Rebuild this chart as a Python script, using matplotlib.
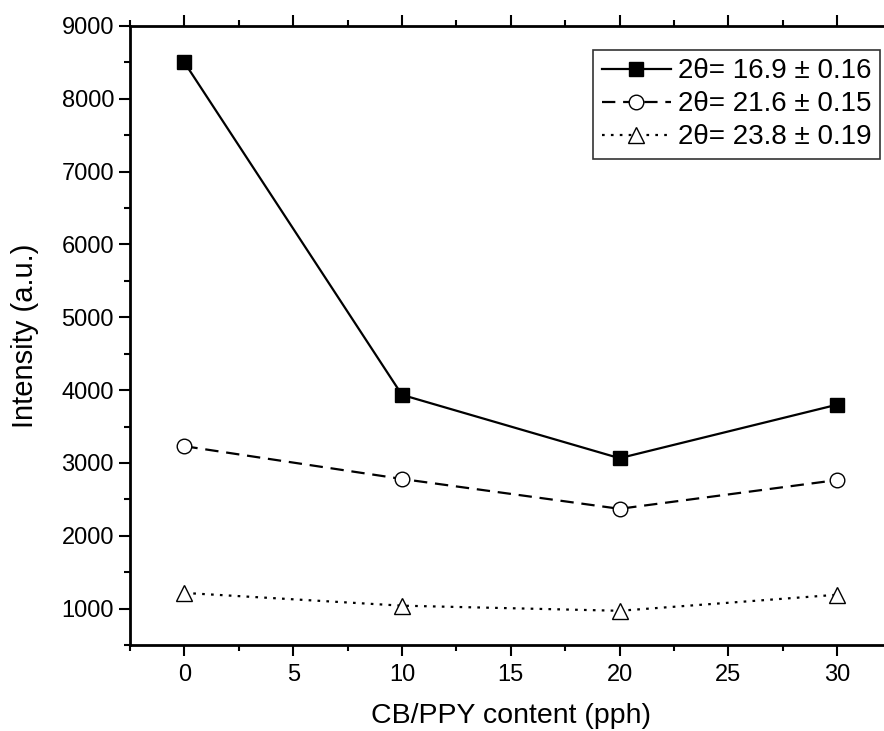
import matplotlib.pyplot as plt
from matplotlib.ticker import MultipleLocator

plt.rcParams['font.family'] = ['Liberation Sans', 'DejaVu Sans']

# data
content = [0, 10, 20, 30]
peak_169 = [8500, 3935, 3065, 3800]
peak_216 = [3230, 2780, 2370, 2765]
peak_238 = [1215, 1040, 970, 1190]

labels = ['2θ= 16.9 ± 0.16', '2θ= 21.6 ± 0.15', '2θ= 23.8 ± 0.19']

fig = plt.figure(figsize=(8.84, 7.31), dpi=100)
# right edge of the frame falls outside the picture, as in the reference
ax = fig.add_axes([130/884, 1-645/731, (891.5-130)/884, (645-26)/731])

ax.plot(content, peak_169, '-', color='black', lw=1.6, marker='s', ms=9.5,
        mfc='black', mec='black', label=labels[0])
ax.plot(content, peak_216, color='black', lw=1.6, ls=(0, (6, 3.5)), marker='o',
        ms=10.5, mfc='white', mec='black', mew=1.0, label=labels[1])
ax.plot(content, peak_238, color='black', lw=1.6, ls=(0, (1.2, 2.8)), marker='^',
        ms=12, mfc='white', mec='black', mew=1.0, label=labels[2])

ax.set_xlim(-2.5, 32.5)
ax.set_ylim(500, 9000)
ax.xaxis.set_major_locator(MultipleLocator(5))
ax.xaxis.set_minor_locator(MultipleLocator(2.5))
ax.yaxis.set_major_locator(MultipleLocator(1000))
ax.yaxis.set_minor_locator(MultipleLocator(500))

ax.tick_params(which='both', direction='out', top=True, right=True,
               labelsize=17, width=1.5, color='black')
ax.tick_params(which='major', length=8)
ax.tick_params(which='minor', length=4.5)
ax.tick_params(axis='x', which='major', pad=6)
for s in ax.spines.values():
    s.set_linewidth(2)

ax.set_xlabel('CB/PPY content (pph)', fontsize=20.5, labelpad=12)
ax.set_ylabel('Intensity (a.u.)', fontsize=21, labelpad=16)

leg = ax.legend(loc='upper right', bbox_to_anchor=((880-130)/(891.5-130), (645-50)/(645-26)),
                fontsize=20, frameon=True, fancybox=False, edgecolor='black',
                handlelength=2.5, handletextpad=0.25, borderpad=0.3,
                labelspacing=0.25, borderaxespad=0)
leg.get_frame().set_linewidth(1.2)

fig.savefig('out.png', dpi=100)
